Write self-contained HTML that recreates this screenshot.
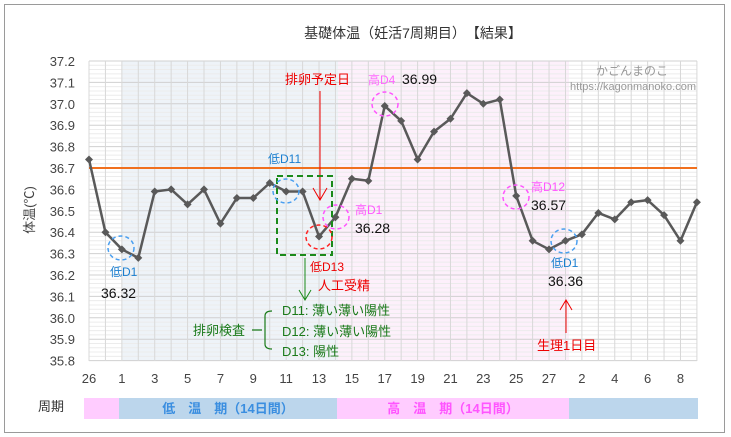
<!DOCTYPE html>
<html><head><meta charset="utf-8"><style>
body{margin:0;background:#fff;}
svg{display:block;font-family:"Liberation Sans","Noto Sans CJK JP",sans-serif;}
</style></head><body>
<svg width="731" height="437" viewBox="0 0 731 437" xmlns="http://www.w3.org/2000/svg">
<rect x="0" y="0" width="731" height="437" fill="#fff"/>
<rect x="4.5" y="4.5" width="720" height="428" fill="none" stroke="#9a9a9a" stroke-width="1"/>
<text x="413" y="38" font-size="14" text-anchor="middle" fill="#333" xml:space="preserve">基礎体温（妊活7周期目）　【結果】</text>
<rect x="122" y="61" width="216" height="300" fill="#eef3f8"/>
<rect x="338" y="61" width="231" height="300" fill="#fdf0fb"/>
<g id="grid" stroke="#dcdcdc" stroke-width="1">
</g>
<g font-size="13" fill="#444" text-anchor="end" id="ylab"></g>
<g font-size="13" fill="#444" text-anchor="middle" id="xlab"></g>
<text transform="translate(34,210) rotate(-90)" font-size="13" fill="#444" text-anchor="middle">体温(℃)</text>
<line x1="89" y1="168" x2="697" y2="168" stroke="#f0701e" stroke-width="2"/>
<polyline id="series" fill="none" stroke="#595959" stroke-width="2.5"/>
<g id="marks" fill="#595959"></g>
<text x="285" y="84" font-size="13" fill="#e00">排卵予定日</text>
<line x1="320" y1="91" x2="320" y2="200" stroke="#e00" stroke-width="1"/>
<polyline points="313,188 320,200 327,188" fill="none" stroke="#e00" stroke-width="1"/>
<text x="368" y="84" font-size="12" fill="#f6f">高D4</text>
<text x="402" y="84" font-size="14" fill="#111">36.99</text>
<text x="268" y="163" font-size="12" fill="#1b7fd0">低D11</text>
<rect x="277" y="176" width="55" height="79" fill="none" stroke="#1a8a1a" stroke-width="2" stroke-dasharray="6,4"/>
<g fill="none" stroke-width="1.5" stroke-dasharray="4,3">
<ellipse cx="286" cy="191" rx="13" ry="12" stroke="#4a9ff0"/>
<ellipse cx="319" cy="237" rx="13" ry="12" stroke="#f22"/>
<ellipse cx="336" cy="217" rx="13" ry="12" stroke="#f5f"/>
<ellipse cx="385" cy="104" rx="13" ry="12" stroke="#f5f"/>
<ellipse cx="516" cy="197" rx="13" ry="12" stroke="#f5f"/>
<ellipse cx="564" cy="241" rx="13" ry="12" stroke="#4a9ff0"/>
<ellipse cx="121" cy="248" rx="13" ry="12" stroke="#4a9ff0"/>
</g>
<text x="355" y="214" font-size="12" fill="#f5f">高D1</text>
<text x="355" y="233" font-size="14" fill="#111">36.28</text>
<text x="531" y="191" font-size="12" fill="#f5f">高D12</text>
<text x="531" y="210" font-size="14" fill="#111">36.57</text>
<text x="110" y="276" font-size="12" fill="#1b7fd0">低D1</text>
<text x="101" y="298" font-size="14" fill="#111">36.32</text>
<text x="551" y="267" font-size="12" fill="#1b7fd0">低D1</text>
<text x="548" y="286" font-size="14" fill="#111">36.36</text>
<text x="310" y="271" font-size="12" fill="#e00">低D13</text>
<text x="318" y="290" font-size="13" fill="#e00">人工受精</text>
<line x1="305" y1="258" x2="305" y2="300" stroke="#1a8a1a" stroke-width="1"/>
<polyline points="299,290 305,300 311,290" fill="none" stroke="#1a8a1a" stroke-width="1"/>
<text x="193" y="335" font-size="13" fill="#1a7a1a">排卵検査</text>
<path d="M252,330 H262 M272,311 Q265,311 265,316 V344 Q265,349 272,349" fill="none" stroke="#1a7a1a" stroke-width="1.2"/>
<text x="282" y="315" font-size="13" fill="#1a7a1a">D11: 薄い薄い陽性</text>
<text x="282" y="336" font-size="13" fill="#1a7a1a">D12: 薄い薄い陽性</text>
<text x="282" y="356" font-size="13" fill="#1a7a1a">D13: 陽性</text>
<text x="537" y="350" font-size="13" fill="#e00">生理1日目</text>
<line x1="566" y1="333" x2="566" y2="300" stroke="#e00" stroke-width="1"/>
<polyline points="560,310 566,300 572,310" fill="none" stroke="#e00" stroke-width="1"/>
<text x="632" y="75" font-size="12" fill="#999" text-anchor="middle">かごんまのこ</text>
<text x="696" y="90" font-size="11" fill="#999" text-anchor="end">https://kagonmanoko.com</text>
<text x="38" y="411" font-size="13" fill="#333">周期</text>
<rect x="84" y="398" width="35" height="21" fill="#ffccff"/>
<rect x="119" y="398" width="218" height="21" fill="#bcd6ec"/>
<rect x="337" y="398" width="232" height="21" fill="#ffccff"/>
<rect x="569" y="398" width="129" height="21" fill="#bcd6ec"/>
<text x="228" y="413" font-size="13" font-weight="bold" fill="#3a8ee0" text-anchor="middle" xml:space="preserve">低　温　期（14日間）</text>
<text x="453" y="413" font-size="13" font-weight="bold" fill="#f5f" text-anchor="middle" xml:space="preserve">高　温　期（14日間）</text>
</svg>
<script>
var ns="http://www.w3.org/2000/svg";
var d=[36.74,36.40,36.32,36.28,36.59,36.60,36.53,36.60,36.44,36.56,36.56,36.63,36.59,36.59,36.38,36.47,36.65,36.64,36.99,36.92,36.74,36.87,36.93,37.05,37.00,37.02,36.57,36.36,36.32,36.36,36.39,36.49,36.46,36.54,36.55,36.48,36.36,36.54];
function X(i){return 89+i*16.43;}
function Y(t){return 61+(37.2-t)*214;}
function el(n,a,p){var e=document.createElementNS(ns,n);for(var k in a)e.setAttribute(k,a[k]);p.appendChild(e);return e;}
var g=document.getElementById("grid");
for(var k=0;k<=70;k++){var y=61+k*214/50;if(y>361)break;el("line",{x1:89,x2:697,y1:y,y2:y,stroke:k%5==0?"#d0d0d0":"#ececec"},g);}
for(var i=0;i<38;i++){el("line",{x1:X(i),x2:X(i),y1:61,y2:361,stroke:"#d8d8d8"},g);}
var yl=document.getElementById("ylab");
for(var k=0;k<=14;k++){var t=(37.2-k*0.1).toFixed(1);var e=el("text",{x:75,y:Y(37.2-k*0.1)+5},yl);e.textContent=t;}
var xl=document.getElementById("xlab");
var labs=["26","1","3","5","7","9","11","13","15","17","19","21","23","25","27","2","4","6","8"];
for(var j=0;j<labs.length;j++){var e=el("text",{x:X(j*2),y:383},xl);e.textContent=labs[j];}
var pts=d.map(function(t,i){return X(i).toFixed(1)+","+Y(t).toFixed(1);}).join(" ");
document.getElementById("series").setAttribute("points",pts);
var m=document.getElementById("marks");
d.forEach(function(t,i){var x=X(i),y=Y(t);el("polygon",{points:(x-4)+","+y+" "+x+","+(y-4)+" "+(x+4)+","+y+" "+x+","+(y+4)},m);});
</script>
</body></html>
